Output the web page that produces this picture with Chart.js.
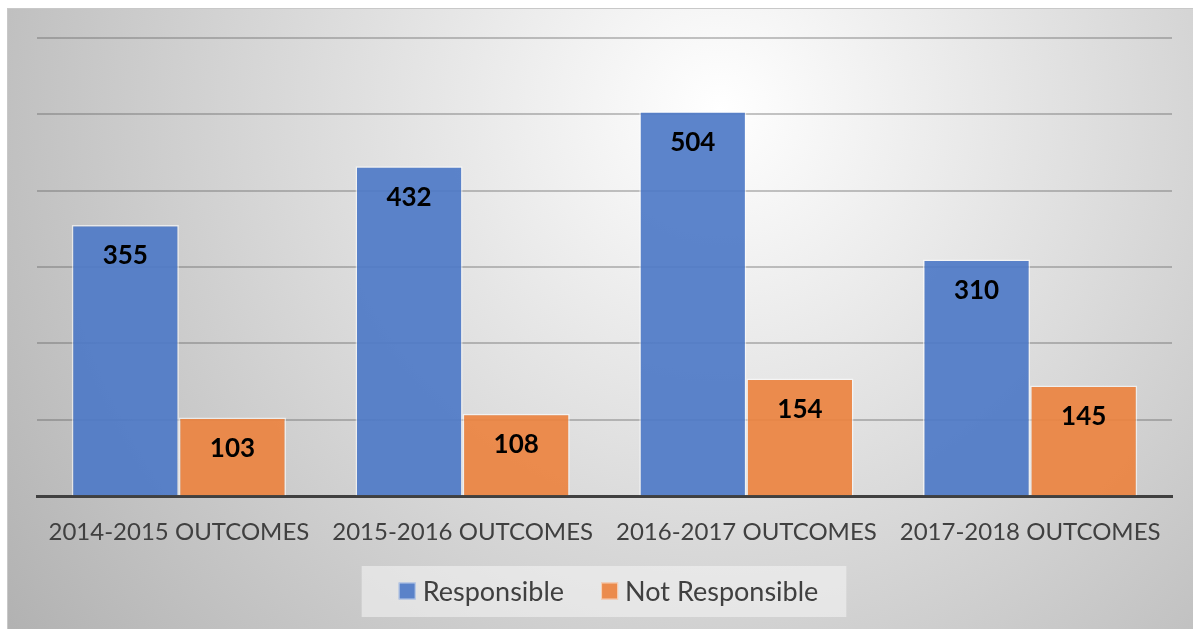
<!DOCTYPE html>
<html>
<head>
<meta charset="utf-8">
<script src="https://cdn.jsdelivr.net/npm/chart.js@4.4.1/dist/chart.umd.min.js"></script>
<style>
  html, body { margin: 0; padding: 0; background: #fff; }
  #wrap { width: 1193px; height: 629px; position: relative; }
</style>
</head>
<body>
<div id="wrap"><canvas id="chart" width="1193" height="629"></canvas></div>
<script>
// data
const categories = ["2014-2015 OUTCOMES", "2015-2016 OUTCOMES", "2016-2017 OUTCOMES", "2017-2018 OUTCOMES"];
const responsible = [355, 432, 504, 310];
const notResponsible = [103, 108, 154, 145];
const yTicks = [0, 100, 200, 300, 400, 500, 600];

const FONT = "Lato, 'Liberation Sans', sans-serif";

// grey radial background with thin frame
const backgroundPlugin = {
    id: "bg",
    beforeDraw(chart) {
        const ctx = chart.ctx;
        ctx.save();
        ctx.fillStyle = "#ffffff";
        ctx.fillRect(0, 0, chart.width, chart.height);
        const g = ctx.createRadialGradient(720, 110, 0, 720, 110, 900);
        g.addColorStop(0, "#ffffff");
        g.addColorStop(1, "#b0b0b0");
        ctx.fillStyle = g;
        ctx.fillRect(7, 8, chart.width - 7, chart.height - 8);
        ctx.strokeStyle = "#c8c8c8";
        ctx.lineWidth = 1;
        ctx.strokeRect(7.5, 8.5, chart.width - 7, chart.height - 8);
        ctx.restore();
    }
};

// legend drawn by hand so the spacing matches the office style
const bottomLegend = {
    id: "bottomLegend",
    afterDraw(chart) {
        const ctx = chart.ctx;
        const sq = 17, gap = 7, itemGap = 37, cy = 591;
        ctx.save();
        ctx.font = "27px " + FONT;
        ctx.textBaseline = "middle";
        const items = chart.data.datasets.map(ds => ({
            text: ds.label, color: ds.backgroundColor, w: ctx.measureText(ds.label).width
        }));
        const total = items.reduce((s, it) => s + sq + gap + it.w, 0) + itemGap * (items.length - 1);
        const cx = (chart.chartArea.left + chart.chartArea.right) / 2 + 4;
        let x = cx - total / 2;
        ctx.fillStyle = "rgba(245,245,245,0.55)";
        ctx.fillRect(x - 37, cy - 25, total + 65, 51);
        items.forEach(it => {
            ctx.fillStyle = it.color;
            ctx.fillRect(x, cy - sq / 2, sq, sq);
            ctx.strokeStyle = "rgba(255,255,255,0.6)";
            ctx.lineWidth = 1;
            ctx.strokeRect(x + 0.5, cy - sq / 2 + 0.5, sq - 1, sq - 1);
            ctx.fillStyle = "#404040";
            ctx.fillText(it.text, x + sq + gap, cy + 1);
            x += sq + gap + it.w + itemGap;
        });
        ctx.restore();
    }
};

// value labels inside the top of each bar
const valueLabels = {
    id: "valueLabels",
    afterDatasetsDraw(chart) {
        const ctx = chart.ctx;
        ctx.save();
        ctx.font = "bold 26px " + FONT;
        ctx.fillStyle = "#000000";
        ctx.textAlign = "center";
        ctx.textBaseline = "middle";
        chart.data.datasets.forEach((ds, i) => {
            chart.getDatasetMeta(i).data.forEach((bar, j) => {
                ctx.fillText(ds.data[j], bar.x, bar.y + 31);
            });
        });
        ctx.restore();
    }
};

new Chart(document.getElementById("chart"), {
    type: "bar",
    data: {
        labels: categories,
        datasets: [
            {
                label: "Responsible",
                data: responsible,
                backgroundColor: "rgba(78,122,199,0.92)",
                borderColor: "rgba(255,255,255,0.6)",
                borderWidth: 1.5
            },
            {
                label: "Not Responsible",
                data: notResponsible,
                backgroundColor: "rgba(235,131,64,0.92)",
                borderColor: "rgba(255,255,255,0.6)",
                borderWidth: 1.5
            }
        ]
    },
    options: {
        responsive: false,
        animation: false,
        layout: { padding: { left: 37, right: 21, top: 38, bottom: 60 } },
        datasets: { bar: { categoryPercentage: 0.755, barPercentage: 1 } },
        scales: {
            x: {
                grid: { display: false, drawTicks: false },
                border: { display: true, color: "#404040", width: 3 },
                ticks: { color: "#404040", font: { family: FONT, size: 24 }, padding: 22, maxRotation: 0 }
            },
            y: {
                min: 0,
                max: 600,
                z: 1,
                afterBuildTicks(axis) { axis.ticks = yTicks.map(v => ({ value: v })); },
                grid: {
                    color: ctx => ctx.tick && ctx.tick.value === 0 ? "rgba(0,0,0,0)" : "rgba(90,90,90,0.35)",
                    lineWidth: 2,
                    drawTicks: false
                },
                border: { display: false },
                ticks: { display: false }
            }
        },
        plugins: {
            legend: { display: false },
            tooltip: { enabled: false }
        }
    },
    plugins: [backgroundPlugin, valueLabels, bottomLegend]
});
</script>
</body>
</html>
